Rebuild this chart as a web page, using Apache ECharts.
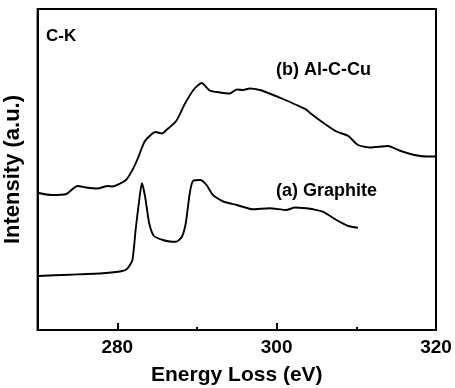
<!DOCTYPE html>
<html>
<head>
<meta charset="utf-8">
<script src="https://cdn.jsdelivr.net/npm/echarts@6/dist/echarts.min.js"></script>
<style>
	html, body { margin: 0; padding: 0; background: #fff; }
	#main { width: 455px; height: 388px; }
</style>
</head>
<body>
<div id="main"></div>
<script>
// (b) Al-C-Cu spectrum, energy in eV / intensity in arbitrary units
var alccuEnergy = [270.1, 271.7, 273.6, 275.0, 276.1, 277.5, 278.8, 279.4, 281.1, 281.9,
	282.6, 283.4, 284.2, 284.8, 285.6, 286.3, 287.4, 288.5, 289.7, 290.6,
	291.6, 292.9, 294.1, 295.0, 295.8, 296.6, 297.9, 299.1, 300.8, 302.5,
	303.7, 304.2, 305.8, 307.5, 309.0, 310.2, 311.7, 314.0, 315.4, 317.3,
	318.8, 320]
var alccuIntensity = [137, 135, 136, 144, 142.5, 141.5, 144, 143.5, 150, 160,
	172, 188, 195, 198, 196.5, 201, 209, 226.5, 241.5, 247,
	239.5, 237.5, 236.5, 240.5, 240, 241.5, 240, 236.5, 231, 225,
	220.5, 217, 207.5, 198.5, 194, 185, 182.5, 184, 179.5, 175,
	173.5, 173.5]

// (a) Graphite spectrum
var graphiteEnergy = [270.1, 274.0, 278.2, 280.5, 281.3, 281.9, 282.3, 282.8, 283.1, 283.5,
	284.0, 284.6, 285.7, 286.6, 287.4, 288.1, 288.6, 289.1, 289.5, 290.4,
	291.2, 292.0, 293.3, 295.0, 297.0, 299.1, 301.2, 302.3,
	303.7, 304.6, 305.8, 307.5, 309.0, 310.2]
var graphiteIntensity = [54, 55.3, 56.7, 58.7, 61.7, 70, 100, 133, 147, 133,
	107, 94, 90, 88.5, 88.3, 93, 107, 137, 149, 150,
	145, 135, 128.5, 125, 120.7, 121.7, 120, 122.5,
	121.7, 120.7, 118.3, 110, 104, 102.3]

var majorTicks = [280, 300, 320]
var minorTicks = [290, 310]

function toPairs(xs, ys) {
	var arr = []
	for(var i = 0; i < xs.length; i ++) {
		arr.push([xs[i], ys[i]])
	}
	return arr
}

var chart = echarts.init(document.getElementById('main'));
var fontFam = '"Liberation Sans", Arial, sans-serif'

var option = {
	backgroundColor: '#fff',
	animation: false,
	grid: {
		left: 37.6,
		right: 19,
		top: 9,
		bottom: 58,
		outerBoundsMode: 'none',
		containLabel: false,
		show: true,
		borderColor: '#000',
		borderWidth: 2
	},
	xAxis: [{
		type: 'value',
		min: 270,
		max: 320,
		name: 'Energy Loss (eV)',
		nameLocation: 'middle',
		nameGap: 35,
		nameTextStyle: { fontFamily: fontFam, fontWeight: 'bold', fontSize: 21, color: '#000' },
		axisLine: { lineStyle: { color: '#000', width: 2 } },
		axisTick: { inside: true, length: 7, customValues: majorTicks, lineStyle: { color: '#000', width: 2 } },
		axisLabel: { customValues: majorTicks, margin: 8, fontFamily: fontFam, fontWeight: 'bold', fontSize: 19, color: '#000' },
		splitLine: { show: false }
	}, {
		type: 'value',
		min: 270,
		max: 320,
		position: 'bottom',
		axisLine: { show: false },
		axisTick: { inside: true, length: 3, customValues: minorTicks, lineStyle: { color: '#000', width: 2 } },
		axisLabel: { show: false },
		splitLine: { show: false }
	}],
	yAxis: {
		type: 'value',
		min: 0,
		max: 321,
		name: 'Intensity (a.u.)',
		nameLocation: 'middle',
		nameGap: 14,
		nameTextStyle: { fontFamily: fontFam, fontWeight: 'bold', fontSize: 22, color: '#000' },
		axisLine: { show: true, lineStyle: { color: '#000', width: 2 } },
		axisTick: { show: false },
		axisLabel: { show: false },
		splitLine: { show: false }
	},
	graphic: [{
		type: 'text',
		left: 46,
		top: 28,
		style: { text: 'C-K', font: 'bold 17px ' + fontFam, fill: '#000' }
	}, {
		type: 'text',
		left: 276,
		top: 61,
		style: { text: '(b) Al-C-Cu', font: 'bold 18px ' + fontFam, fill: '#000' }
	}, {
		type: 'text',
		left: 276,
		top: 182,
		style: { text: '(a) Graphite', font: 'bold 18px ' + fontFam, fill: '#000' }
	}],
	series: [{
		name: '(b) Al-C-Cu',
		type: 'line',
		data: toPairs(alccuEnergy, alccuIntensity),
		showSymbol: false,
		smooth: 0.2,
		lineStyle: { color: '#000', width: 1.9 }
	}, {
		name: '(a) Graphite',
		type: 'line',
		data: toPairs(graphiteEnergy, graphiteIntensity),
		showSymbol: false,
		smooth: 0.2,
		lineStyle: { color: '#000', width: 1.9 }
	}]
};

chart.setOption(option);
</script>
</body>
</html>
